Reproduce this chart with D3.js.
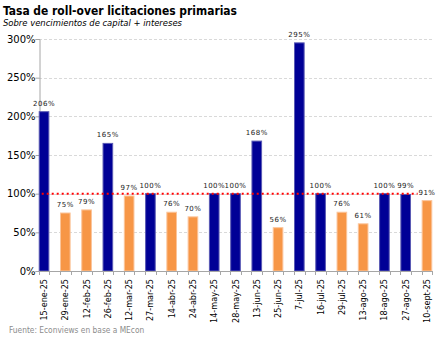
<!DOCTYPE html>
<html>
<head>
<meta charset="utf-8">
<script src="https://cdn.jsdelivr.net/npm/d3@7"></script>
<style>
  body { margin: 0; background: #fff; }
  svg { display: block; }
</style>
</head>
<body>
<svg id="chart"></svg>
<script>
// fechas de licitacion
var fechas = ["15-ene-25", "29-ene-25", "12-feb-25", "26-feb-25", "12-mar-25", "27-mar-25",
  "14-abr-25", "24-abr-25", "14-may-25", "28-may-25", "13-jun-25", "25-jun-25", "7-jul-25",
  "16-jul-25", "29-jul-25", "13-ago-25", "18-ago-25", "27-ago-25", "10-sept-25"]

// rollover en %
var rollover = [206, 75, 79, 165, 97, 100, 76, 70, 100, 100, 168, 56, 295, 100, 76, 61, 100, 99, 91]

// serie de cada licitacion: "a" azul, "b" naranja
var serie = ["a", "b", "b", "a", "b", "a", "b", "b", "a", "a", "a", "b", "a", "a", "b", "b", "a", "a", "b"]

var yTicks = [0, 50, 100, 150, 200, 250, 300]
var umbral = 100

var colores = { a: "#000096", b: "#f79646" }
var bordes = { a: "#5a5ab4", b: "#fbc49a" }

var dimensions = {
  width: 443,
  height: 340,
  margin: { top: 39, bottom: 69, left: 39, right: 11 }
}

var svg = d3.select("#chart")
  .attr("width", dimensions.width)
  .attr("height", dimensions.height)

var plotBottom = dimensions.height - dimensions.margin.bottom
var plotRight = dimensions.width - dimensions.margin.right

svg.append("text")
  .text("Tasa de roll-over licitaciones primarias")
  .attr("x", 3).attr("y", 15)
  .style("font-family", "'DejaVu Sans Condensed', 'DejaVu Sans', sans-serif")
  .style("font-weight", "bold")
  .style("font-size", "12.5px")
  .attr("textLength", 234)
  .attr("lengthAdjust", "spacingAndGlyphs")

svg.append("text")
  .text("Sobre vencimientos de capital + intereses")
  .attr("x", 3).attr("y", 26)
  .style("font-family", "'DejaVu Sans Condensed', 'DejaVu Sans', sans-serif")
  .style("font-style", "italic")
  .style("font-size", "9px")
  .attr("textLength", 179)
  .attr("lengthAdjust", "spacingAndGlyphs")

var y = d3.scaleLinear()
  .domain([0, 300])
  .range([plotBottom, dimensions.margin.top])

var x = d3.scaleBand()
  .domain(fechas)
  .range([33.4, 437.6])
  .paddingInner(0.5)
  .paddingOuter(0.25)

// grilla punteada
svg.append("g")
  .selectAll("line")
  .data(yTicks.slice(1))
  .enter().append("line")
    .attr("x1", dimensions.margin.left)
    .attr("x2", plotRight)
    .attr("y1", function(d) { return Math.round(y(d)) + 0.5 })
    .attr("y2", function(d) { return Math.round(y(d)) + 0.5 })
    .attr("stroke", "#d9d9d9")
    .attr("stroke-dasharray", "3,2")

var yAxis = svg.append("g")
  .attr("transform", "translate(" + (dimensions.margin.left + 0.5) + ",0)")
  .call(d3.axisLeft(y).tickValues(yTicks).tickSize(4).tickFormat(function(d) { return d + "%" }))
yAxis.select(".domain").attr("stroke", "#a6a6a6")
yAxis.selectAll(".tick line").attr("stroke", "#a6a6a6")
yAxis.selectAll("text")
  .attr("x", -4)
  .style("font-family", "'DejaVu Sans', sans-serif")
  .style("font-size", "10px")
  .attr("fill", "#000")

// barras
svg.append("g")
  .selectAll("rect")
  .data(rollover)
  .enter().append("rect")
    .attr("x", function(d, i) { return x(fechas[i]) + 0.5 })
    .attr("y", function(d) { return y(d) })
    .attr("width", x.bandwidth() - 1)
    .attr("height", function(d) { return plotBottom - y(d) })
    .attr("fill", function(d, i) { return colores[serie[i]] })
    .attr("stroke", function(d, i) { return bordes[serie[i]] })
    .attr("stroke-width", 1)

// eje x
svg.append("line")
  .attr("x1", dimensions.margin.left).attr("x2", plotRight)
  .attr("y1", plotBottom + 0.5).attr("y2", plotBottom + 0.5)
  .attr("stroke", "#a6a6a6")

var edges = []
fechas.forEach(function(f) { edges.push(x(f), x(f) + x.bandwidth()) })
svg.append("g")
  .selectAll("line")
  .data(edges)
  .enter().append("line")
    .attr("x1", function(d) { return Math.round(d) + 0.5 })
    .attr("x2", function(d) { return Math.round(d) + 0.5 })
    .attr("y1", plotBottom)
    .attr("y2", plotBottom + 4)
    .attr("stroke", "#a6a6a6")

svg.append("g")
  .selectAll("text")
  .data(fechas)
  .enter().append("text")
    .text(function(d) { return d })
    .attr("text-anchor", "end")
    .attr("transform", function(d) {
      return "translate(" + (x(d) + x.bandwidth() / 2 + 3) + "," + (plotBottom + 8) + ") rotate(-90)"
    })
    .style("font-family", "'DejaVu Sans Condensed', 'DejaVu Sans', sans-serif")
    .style("font-size", "9px")

// linea de 100%
svg.append("line")
  .attr("x1", x(fechas[0]) + 3)
  .attr("x2", x(fechas[fechas.length - 1]) - 4)
  .attr("y1", y(umbral))
  .attr("y2", y(umbral))
  .attr("stroke", "#ff0000")
  .attr("stroke-width", 2)
  .attr("stroke-dasharray", "2,3")

// etiquetas de valor
svg.append("g")
  .selectAll("text")
  .data(rollover)
  .enter().append("text")
    .text(function(d) { return d + "%" })
    .attr("x", function(d, i) { return x(fechas[i]) + x.bandwidth() / 2 })
    .attr("y", function(d) { return y(d) - 6 })
    .attr("text-anchor", "middle")
    .style("font-family", "'DejaVu Sans', sans-serif")
    .style("font-size", "7px")
    .style("letter-spacing", "0.5px")
    .attr("fill", "#222")

svg.append("text")
  .text("Fuente: Econviews en base a MEcon")
  .attr("x", 9).attr("y", 333)
  .style("font-family", "'DejaVu Sans Condensed', 'DejaVu Sans', sans-serif")
  .style("font-size", "8.3px")
  .attr("fill", "#8c8c8c")
</script>
</body>
</html>
